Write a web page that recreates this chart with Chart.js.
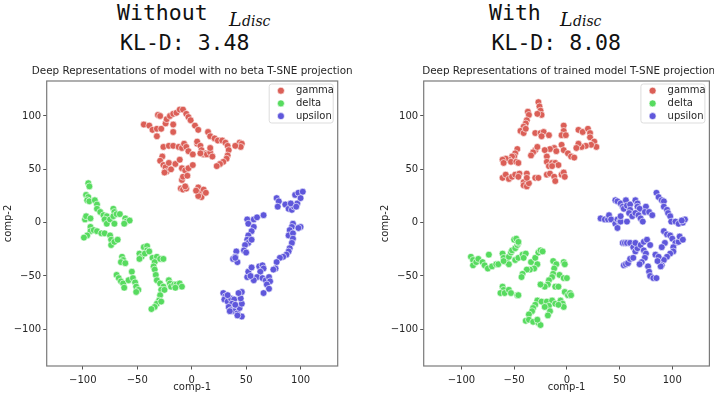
<!DOCTYPE html>
<html>
<head>
<meta charset="utf-8">
<script src="https://cdn.jsdelivr.net/npm/chart.js@4/dist/chart.umd.min.js"></script>
<style>
  body { margin: 0; background: #fff; }
  #page { position: relative; width: 714px; height: 393px; overflow: hidden; }
  .mono { position: absolute; font-family: 'DejaVu Sans Mono', monospace; font-size: 21.5px; line-height: 22px; color: #111; white-space: nowrap; }
  .mathL { position: absolute; font-family: 'DejaVu Serif', serif; font-style: italic; font-size: 19px; line-height: 19px; color: #111; }
  .mathSub { position: absolute; font-family: 'DejaVu Serif', serif; font-style: italic; font-size: 14px; line-height: 14px; color: #111; }
  .subtitle { position: absolute; top: 63.5px; width: 400px; margin-left: -200px; text-align: center; font-family: 'DejaVu Sans', sans-serif; font-size: 10.4px; line-height: 13px; color: #262626; white-space: nowrap; }
  .panel { position: absolute; top: 60px; height: 333px; }
</style>
</head>
<body>
<div id="page">
  <div class="mono" style="left:117px; top:2px;">Without</div>
  <div class="mathL" style="left:229px; top:9.5px;">L</div>
  <div class="mathSub" style="left:242px; top:14px;">disc</div>
  <div class="mono" style="left:120px; top:32px;">KL-D: 3.48</div>

  <div class="mono" style="left:489px; top:2px;">With</div>
  <div class="mathL" style="left:560px; top:9.5px;">L</div>
  <div class="mathSub" style="left:573px; top:14px;">disc</div>
  <div class="mono" style="left:491.5px; top:32px;">KL-D: 8.08</div>

  <div class="panel" style="left:0; width:357px;"><canvas id="noBeta"></canvas></div>
  <div class="panel" style="left:377px; width:337px;"><canvas id="trained"></canvas></div>

  <div class="subtitle" style="left:192.2px;">Deep Representations of model with no beta T-SNE projection</div>
  <div class="subtitle" style="left:568.7px;">Deep Representations of trained model T-SNE projection</div>
</div>
<script>
// tick values shared by both panels
const tickValues = [-100, -50, 0, 50, 100];
const classNames = ['gamma', 'delta', 'upsilon'];
const classColors = ['#db5f57', '#57db5f', '#5f57db'];

// left panel: model with no beta
const noBetaGamma = [[-44,92],[-39,91],[-36,87],[-32,88],[-28,88],[-31,101],[-29,100],[-32,81],[-24,93],[-23,97],[-20,100],[-17,102],[-14,103],[-11,106],[-8,106],[-5,102],[-3,99],[-1,96],[3,91],[6,87],[-17,92],[-17,85],[15,85],[17,81],[21,79],[24,77],[28,77],[31,75],[33,72],[34,68],[33,63],[32,60],[29,57],[26,55],[23,53],[41,72],[44,75],[46,74],[45,71],[40,72],[-26,71],[-21,72],[-17,72],[-12,71],[-9,70],[-7,74],[-5,71],[-3,67],[1,64],[5,74],[5,76],[8,72],[9,68],[11,64],[13,65],[8,65],[14,64],[17,66],[17,70],[19,62],[-27,62],[-29,58],[-26,54],[-24,52],[-21,56],[-23,48],[-25,47],[-19,50],[-15,55],[-11,59],[-9,51],[-6,49],[-3,51],[1,54],[-9,40],[-8,43],[-4,44],[-10,32],[-8,31],[-5,32],[-6,34],[6,33],[8,28],[9,24],[6,25],[11,31],[13,28],[4,30]];
const noBetaDelta = [[-95,37],[-94,34],[-97,26],[-95,24],[-96,21],[-94,20],[-89,21],[-87,17],[-87,13],[-84,10],[-81,7],[-78,6],[-80,3],[-78,-1],[-75,3],[-72,13],[-71,10],[-72,6],[-69,8],[-66,8],[-71,-1],[-98,3],[-97,6],[-93,4],[-61,4],[-60,1],[-57,2],[-62,-1],[-93,-4],[-93,-8],[-96,-12],[-99,-14],[-90,-7],[-87,-8],[-83,-10],[-80,-10],[-75,-12],[-74,-16],[-74,-21],[-71,-18],[-68,-16],[-64,-32],[-63,-35],[-65,-37],[-61,-38],[-69,-49],[-67,-52],[-65,-55],[-63,-57],[-62,-61],[-58,-54],[-55,-46],[-54,-52],[-52,-56],[-51,-60],[-49,-63],[-51,-65],[-48,-29],[-46,-32],[-48,-34],[-44,-23],[-41,-22],[-41,-26],[-43,-29],[-39,-27],[-36,-33],[-32,-32],[-34,-37],[-29,-34],[-26,-34],[-35,-41],[-34,-44],[-33,-49],[-32,-54],[-29,-57],[-26,-60],[-28,-63],[-29,-68],[-30,-73],[-32,-76],[-34,-79],[-37,-81],[-28,-74],[-21,-54],[-20,-57],[-19,-60],[-16,-58],[-14,-58],[-11,-57],[-9,-60],[-15,-61],[-25,-63]];
const noBetaUpsilon = [[78,23],[80,20],[79,15],[86,17],[89,13],[92,12],[94,15],[97,18],[95,26],[98,28],[102,29],[100,23],[91,18],[96,15],[93,-1],[92,-4],[90,-7],[89,-12],[93,-10],[93,-15],[92,-19],[90,-24],[89,-27],[87,-30],[84,-32],[81,-33],[78,-37],[77,-43],[75,-44],[100,-4],[98,-5],[51,3],[52,-1],[57,3],[60,5],[66,7],[57,-4],[55,-8],[52,-12],[51,-16],[52,-19],[49,-21],[48,-26],[50,-28],[55,-16],[41,-27],[40,-32],[38,-34],[42,-37],[40,-33],[51,-51],[52,-46],[55,-42],[62,-41],[65,-40],[66,-43],[63,-46],[60,-51],[65,-52],[68,-54],[71,-51],[72,-55],[69,-58],[71,-62],[66,-66],[57,-54],[54,-50],[29,-66],[31,-69],[30,-72],[33,-74],[36,-71],[39,-72],[37,-76],[34,-79],[36,-82],[39,-83],[42,-85],[46,-88],[44,-80],[46,-76],[45,-71],[46,-65],[43,-66],[40,-77],[33,-68],[35,-83],[42,-87]];

// right panel: trained model
const trainedGamma = [[-27,113],[-26,109],[-25,105],[-24,101],[-28,102],[-37,104],[-36,101],[-38,96],[-39,93],[-41,90],[-44,86],[-41,84],[-39,88],[-30,84],[-25,84],[-22,85],[-17,82],[-24,81],[-3,91],[-3,86],[-5,82],[-1,82],[11,87],[15,85],[20,88],[22,84],[22,80],[26,76],[28,71],[23,73],[18,72],[14,71],[11,74],[9,70],[-5,73],[-3,68],[1,65],[4,62],[7,61],[-12,70],[-16,69],[-21,68],[-10,67],[-30,68],[-32,66],[-34,63],[-28,71],[-19,62],[-19,57],[-17,53],[-14,56],[-11,56],[-8,54],[-14,53],[-47,69],[-49,65],[-50,62],[-52,62],[-55,59],[-58,60],[-61,59],[-60,56],[-53,57],[-48,57],[-46,56],[-61,42],[-58,45],[-55,41],[-52,43],[-49,45],[-45,46],[-46,43],[-41,38],[-41,35],[-38,34],[-36,37],[-38,46],[-38,42],[-30,42],[-27,42],[-19,45],[-16,46],[-12,43],[-11,39],[-5,45],[-3,47],[-2,43]];
const trainedDelta = [[-91,-32],[-89,-35],[-89,-40],[-86,-37],[-84,-34],[-80,-37],[-78,-40],[-75,-43],[-74,-30],[-71,-41],[-67,-39],[-65,-39],[-61,-29],[-60,-33],[-57,-37],[-55,-39],[-60,-36],[-55,-32],[-53,-28],[-52,-26],[-49,-24],[-47,-21],[-46,-19],[-50,-16],[-48,-15],[-46,-18],[-49,-35],[-46,-33],[-42,-30],[-39,-29],[-41,-33],[-34,-37],[-30,-33],[-27,-28],[-25,-26],[-23,-27],[-28,-39],[-31,-43],[-35,-44],[-38,-44],[-42,-48],[-43,-51],[-13,-36],[-10,-39],[-12,-43],[-13,-48],[-14,-51],[-17,-54],[-18,-58],[-21,-60],[-25,-58],[-3,-37],[-2,-39],[-7,-49],[-3,-52],[0,-52],[-11,-60],[-8,-60],[-61,-60],[-60,-63],[-63,-66],[-59,-66],[-55,-63],[-53,-66],[-47,-68],[-46,-68],[-2,-65],[1,-68],[3,-66],[4,-68],[-28,-73],[-30,-77],[-32,-80],[-33,-83],[-36,-86],[-39,-92],[-36,-91],[-32,-93],[-27,-94],[-25,-96],[-28,-91],[-24,-74],[-19,-74],[-14,-73],[-17,-78],[-16,-83],[-18,-87],[-21,-79],[-11,-76],[-6,-73],[-4,-76],[-3,-79],[-8,-77]];
const trainedUpsilon = [[32,4],[36,3],[39,3],[40,7],[42,3],[46,-1],[48,3],[50,1],[51,1],[48,-5],[51,6],[46,21],[48,20],[51,18],[53,15],[54,13],[56,21],[57,16],[60,17],[60,12],[59,9],[57,1],[62,6],[65,21],[67,18],[67,15],[69,13],[65,9],[68,7],[70,4],[72,1],[75,15],[74,10],[78,10],[81,7],[85,28],[87,24],[90,21],[92,20],[92,15],[95,12],[96,9],[98,6],[99,1],[103,1],[106,-1],[110,0],[112,3],[109,2],[92,-8],[95,-11],[98,-12],[100,-15],[103,-19],[106,-18],[107,-13],[110,-16],[101,-23],[101,-27],[98,-29],[95,-32],[92,-35],[90,-40],[89,-41],[93,-19],[90,-23],[53,-19],[55,-19],[57,-19],[60,-19],[63,-23],[65,-27],[67,-24],[65,-19],[70,-21],[73,-18],[76,-16],[79,-21],[73,-26],[75,-29],[74,-33],[71,-37],[69,-39],[54,-40],[56,-39],[58,-38],[60,-34],[63,-33],[77,-41],[78,-46],[79,-50],[82,-52],[85,-52],[84,-30],[87,-32],[86,-36]];

// draws the axes frame and a matplotlib-like legend inside the plot
const frameAndLegend = {
    id: 'frameAndLegend',
    afterDatasetsDraw(chart) {
        const { ctx, chartArea: a } = chart;
        ctx.save();
        ctx.strokeStyle = '#7a7a7a';
        ctx.lineWidth = 1.2;
        ctx.strokeRect(a.left, a.top, a.right - a.left, a.bottom - a.top);

        const w = 64, h = 39;
        const x0 = a.right - w - 4.5, y0 = a.top + 3;
        ctx.beginPath();
        ctx.roundRect(x0, y0, w, h, 2.5);
        ctx.fillStyle = 'rgba(255,255,255,0.8)';
        ctx.fill();
        ctx.strokeStyle = '#d4d4d4';
        ctx.lineWidth = 0.8;
        ctx.stroke();

        ctx.font = '10px "DejaVu Sans"';
        ctx.textBaseline = 'middle';
        chart.data.datasets.forEach((ds, i) => {
            const y = y0 + 6.7 + i * 12.7;
            ctx.beginPath();
            ctx.arc(x0 + 11.7, y, 3.5, 0, Math.PI * 2);
            ctx.fillStyle = ds.backgroundColor;
            ctx.fill();
            ctx.strokeStyle = '#fff';
            ctx.lineWidth = 0.6;
            ctx.stroke();
            ctx.fillStyle = '#262626';
            ctx.fillText(ds.label, x0 + 26.7, y);
        });
        ctx.restore();
    }
};

function toPoints(pairs) {
    return pairs.map(p => ({ x: p[0], y: p[1] }));
}

function tickLabel(v) {
    return v < 0 ? '\u2212' + Math.abs(v) : String(v);
}

function makePanel(canvasId, series, xMin, xMax, rightPad) {
    const ctx = document.getElementById(canvasId).getContext('2d');
    return new Chart(ctx, {
        type: 'scatter',
        data: {
            datasets: series.map((pts, i) => ({
                label: classNames[i],
                data: toPoints(pts),
                backgroundColor: classColors[i],
                borderColor: '#ffffff',
                borderWidth: 0.6,
                pointRadius: 3.4
            }))
        },
        options: {
            responsive: true,
            maintainAspectRatio: false,
            animation: false,
            events: [],
            // top space is left for the subplot title
            layout: { padding: { left: 0, right: rightPad, top: 21, bottom: 0 } },
            scales: {
                x: {
                    type: 'linear',
                    min: xMin,
                    max: xMax,
                    afterBuildTicks: s => { s.ticks = tickValues.map(v => ({ value: v })); },
                    afterFit: s => { s.height = 27; },
                    ticks: { callback: tickLabel, color: '#262626', font: { family: 'DejaVu Sans', size: 10 }, padding: 4.5, maxRotation: 0 },
                    grid: { drawOnChartArea: false, drawTicks: true, tickLength: 3.5, color: '#555' },
                    border: { display: false },
                    title: { display: true, text: 'comp-1', color: '#262626', font: { family: 'DejaVu Sans', size: 10 }, padding: { top: 0, bottom: 0 } }
                },
                y: {
                    type: 'linear',
                    min: -134.4,
                    max: 132.8,
                    afterBuildTicks: s => { s.ticks = tickValues.map(v => ({ value: v })); },
                    afterFit: s => { s.width = 46.7; },
                    ticks: { callback: tickLabel, color: '#262626', font: { family: 'DejaVu Sans', size: 10 }, padding: 2 },
                    grid: { drawOnChartArea: false, drawTicks: true, tickLength: 3.5, color: '#555' },
                    border: { display: false },
                    title: { display: true, text: 'comp-2', color: '#262626', font: { family: 'DejaVu Sans', size: 10 }, padding: { top: 2, bottom: 0 } }
                }
            },
            plugins: {
                legend: { display: false },
                tooltip: { enabled: false },
                title: { display: false }
            }
        },
        plugins: [frameAndLegend]
    });
}

makePanel('noBeta', [noBetaGamma, noBetaDelta, noBetaUpsilon], -133.2, 134.1, 19.3);
makePanel('trained', [trainedGamma, trainedDelta, trainedUpsilon], -135.8, 135.2, 0.5);
</script>
</body>
</html>
